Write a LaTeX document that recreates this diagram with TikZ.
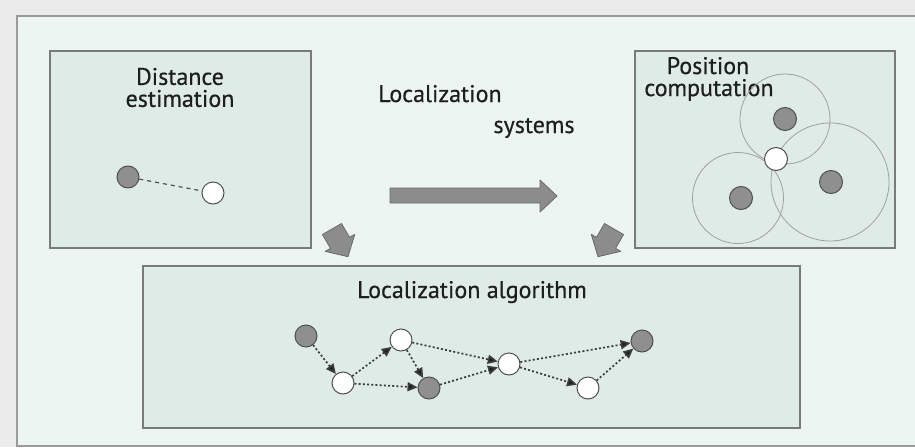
\documentclass[tikz,border=0pt]{standalone}
\usepackage{fontspec}
\setmainfont{PT Sans}
\newfontfamily\labelfont{PT Sans}[FakeBold=0.5]
\usetikzlibrary{arrows.meta}
\definecolor{outerbg}{HTML}{EBEBEB}
\definecolor{framebg}{HTML}{EDF5F2}
\definecolor{frameline}{HTML}{9A9A9A}
\definecolor{boxbg}{HTML}{DEEBE7}
\definecolor{boxline}{HTML}{7A7A7A}
\definecolor{nodegray}{HTML}{8F8F8F}
\definecolor{nodeline}{HTML}{505050}
\definecolor{arrowgray}{HTML}{8C8C8C}
\definecolor{arrowline}{HTML}{6A6A6A}
\definecolor{edgecol}{HTML}{3C3C3C}
\definecolor{txt}{HTML}{1E1E1E}
\definecolor{rangecol}{HTML}{A0A0A0}
\begin{document}
\begin{tikzpicture}[x=1pt,y=-1pt,
  panel/.style={draw=boxline, line width=1.6pt, fill=boxbg, rectangle, inner sep=0pt},
  anchornode/.style={circle, draw=nodeline, fill=nodegray, line width=1pt, minimum size=22pt, inner sep=0pt},
  freenode/.style={circle, draw=nodeline, fill=white, line width=1pt, minimum size=22pt, inner sep=0pt},
  labeltext/.style={font=\labelfont\fontsize{24}{22}\selectfont, text=txt, align=center, inner sep=0pt},
  flow/.style={draw=edgecol, line width=1.7pt, dash pattern=on 2pt off 2.2pt, -{Triangle[length=10pt,width=9pt,fill=txt]}},
  rangecircle/.style={draw=rangecol, line width=0.8pt},
  blockarrow/.style={fill=arrowgray, draw=arrowline, line width=0.8pt, line join=round},
]
\useasboundingbox (0,0) rectangle (915,447);
\fill[outerbg] (0,0) rectangle (915,447);
\path[fill=framebg, draw=frameline, line width=1.5pt] (17,16) rectangle (930,446);

% panels
\node[panel, minimum width=261pt, minimum height=197pt] (dist) at (180.5,149.5) {};
\node[panel, minimum width=260pt, minimum height=197pt] (pos) at (765,149.5) {};
\node[panel, minimum width=657pt, minimum height=162pt] (algo) at (471.5,347) {};

% titles
\node[labeltext] (tdist) at (180,87.5) {Distance\\estimation};
\node[labeltext, anchor=base] (tloc) at (440,102) {Localization};
\node[labeltext, anchor=base] (tsys) at (534,133) {systems};
\node[labeltext, anchor=base] (tpos) at (708,74) {Position};
\node[labeltext, anchor=base] (tcomp) at (709,96) {computation};
\node[labeltext, anchor=base] (talgo) at (472,298) {Localization algorithm};

% big arrow
\draw[blockarrow] (390,188) -- (540,188) -- (540,180) -- (557,196) -- (540,212) -- (540,203) -- (390,203) -- cycle;

% small block arrows
\draw[blockarrow, shift={(332,229)}, rotate=-60] (0,-11) -- (16,-11) -- (16,-17) -- (32,0) -- (16,17) -- (16,11) -- (0,11) -- cycle;
\draw[blockarrow, shift={(614,229)}, rotate=-120] (0,-11) -- (16,-11) -- (16,-17) -- (32,0) -- (16,17) -- (16,11) -- (0,11) -- cycle;

% distance estimation
\node[anchornode] (d1) at (128,177) {};
\node[freenode] (d2) at (213,193) {};
\draw[draw=nodeline, line width=1.2pt, dash pattern=on 4pt off 4pt] (d1) -- (d2);

% position computation
\draw[rangecircle] (785,119) circle[radius=45];
\draw[rangecircle] (738,198) circle[radius=45.5];
\draw[rangecircle] (830,182) circle[radius=59];
\node[anchornode, minimum size=23pt] (p1) at (785,119) {};
\node[anchornode, minimum size=23pt] (p2) at (741,198) {};
\node[anchornode, minimum size=23pt] (p3) at (831,182) {};
\node[freenode, minimum size=23pt] (p0) at (776,159) {};

% localization algorithm graph
\node[anchornode] (a) at (306,336) {};
\node[freenode] (b) at (343,383) {};
\node[freenode] (c) at (401,340) {};
\node[anchornode] (d) at (429,388) {};
\node[freenode] (e) at (509,364) {};
\node[freenode] (f) at (588,388) {};
\node[anchornode] (g) at (642,341) {};
\draw[flow] (a) -- (b);
\draw[flow] (b) -- (c);
\draw[flow] (b) -- (d);
\draw[flow] (c) -- (d);
\draw[flow] (c) -- (e);
\draw[flow] (d) -- (e);
\draw[flow] (e) -- (g);
\draw[flow] (e) -- (f);
\draw[flow] (f) -- (g);
\end{tikzpicture}
\end{document}
